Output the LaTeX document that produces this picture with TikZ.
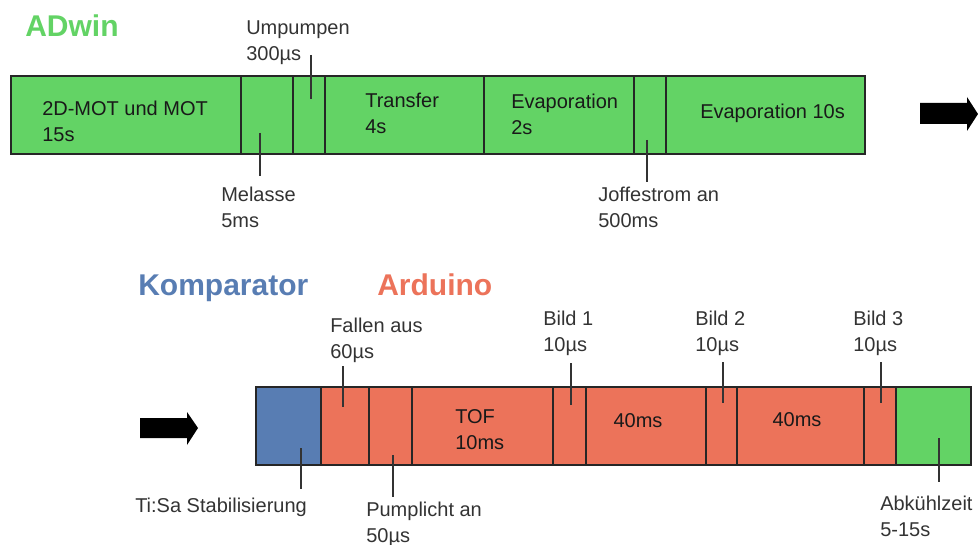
\documentclass[tikz,border=0pt]{standalone}
\usepackage{fontspec}
\setmainfont{Liberation Sans}
\usetikzlibrary{fit}

\definecolor{adgreen}{RGB}{99,211,101}
\definecolor{arorange}{RGB}{236,115,90}
\definecolor{kpblue}{RGB}{88,125,179}
\definecolor{inkgray}{RGB}{51,51,51}

\tikzset{
  seg/.style={draw=black!85, line width=1pt, inner sep=0pt},
  txt/.style={anchor=west, inner sep=0pt, align=left, text=black!90,
    font=\fontsize{15}{19.5}\selectfont},
  lbl/.style={txt, text=inkgray},
  head/.style={anchor=base west, inner sep=0pt, font=\fontsize{22.5}{27}\selectfont\bfseries},
  tick/.style={draw=inkgray, line width=1.1pt},
}

\begin{document}
\begin{tikzpicture}[x=0.75pt, y=-0.75pt]
  \useasboundingbox (0,0) rectangle (978,545);

  % ADwin sequence
  \node[seg, fill=adgreen, fit={(11,76) (241,154)}] (mot) {};
  \node[seg, fill=adgreen, fit={(241,76) (293,154)}] (mel) {};
  \node[seg, fill=adgreen, fit={(293,76) (325,154)}] (ump) {};
  \node[seg, fill=adgreen, fit={(325,76) (484,154)}] (trans) {};
  \node[seg, fill=adgreen, fit={(484,76) (634,154)}] (evap) {};
  \node[seg, fill=adgreen, fit={(634,76) (666,154)}] (joff) {};
  \node[seg, fill=adgreen, fit={(666,76) (865,154)}] (evapb) {};

  \node[head, text=adgreen] (adwin) at (25,37) {ADwin};
  \node[txt] (tmot) at (42,121) {2D-MOT und MOT\\15s};
  \node[txt] (ttrans) at (365,113) {Transfer\\4s};
  \node[txt] (tevap) at (511,114) {Evaporation\\2s};
  \node[txt] (tevapb) at (700,113) {Evaporation 10s};
  \node[lbl] (lump) at (246,43) {Umpumpen\\300µs};
  \node[lbl] (lmel) at (221,207) {Melasse\\5ms};
  \node[lbl] (ljoff) at (598,207) {Joffestrom an\\500ms};

  \coordinate (umpA) at (311,55);  \coordinate (umpB) at (311,99);
  \coordinate (melA) at (260,133); \coordinate (melB) at (260,176);
  \coordinate (joffA) at (647,140); \coordinate (joffB) at (647,182);
  \draw[tick] (umpA) -- (umpB);
  \draw[tick] (melA) -- (melB);
  \draw[tick] (joffA) -- (joffB);

  \fill[black] (920,103) -- (967,103) -- (967,97) -- (978,114) -- (967,131)
    -- (967,124) -- (920,124) -- cycle;

  % Komparator and Arduino sequence
  \fill[black] (140,418) -- (187,418) -- (187,412) -- (198,428) -- (187,445)
    -- (187,438) -- (140,438) -- cycle;

  \node[seg, fill=kpblue, fit={(256,387) (321,465)}] (ksa) {};
  \node[seg, fill=arorange, fit={(321,387) (369,465)}] (fall) {};
  \node[seg, fill=arorange, fit={(369,387) (412,465)}] (pump) {};
  \node[seg, fill=arorange, fit={(412,387) (553,465)}] (tof) {};
  \node[seg, fill=arorange, fit={(553,387) (586,465)}] (b1) {};
  \node[seg, fill=arorange, fit={(586,387) (706,465)}] (w1) {};
  \node[seg, fill=arorange, fit={(706,387) (737,465)}] (b2) {};
  \node[seg, fill=arorange, fit={(737,387) (864,465)}] (w2) {};
  \node[seg, fill=arorange, fit={(864,387) (896,465)}] (b3) {};
  \node[seg, fill=adgreen, fit={(896,387) (971,465)}] (cool) {};

  \node[head, text=kpblue] (komp) at (138,296) {Komparator};
  \node[head, text=arorange] (ardu) at (377,296) {Arduino};
  \node[txt] (ttof) at (455,430) {TOF\\10ms};
  \node[txt, anchor=center] (tw1) at (638,421) {40ms};
  \node[txt, anchor=center] (tw2) at (797,420) {40ms};
  \node[lbl] (lfall) at (330,340) {Fallen aus\\60µs};
  \node[lbl] (lb1) at (543,333) {Bild 1\\10µs};
  \node[lbl] (lb2) at (695,333) {Bild 2\\10µs};
  \node[lbl] (lb3) at (853,333) {Bild 3\\10µs};
  \node[lbl] (lksa) at (135,507) {Ti:Sa Stabilisierung};
  \node[lbl] (lpump) at (366,524) {Pumplicht an\\50µs};
  \node[lbl] (lcool) at (880,516) {Abkühlzeit\\5-15s};

  \coordinate (fallA) at (343,366); \coordinate (fallB) at (343,407);
  \coordinate (pumpA) at (393,455); \coordinate (pumpB) at (393,497);
  \coordinate (ksaA) at (301,448);  \coordinate (ksaB) at (301,489);
  \coordinate (b1A) at (571,363);   \coordinate (b1B) at (571,405);
  \coordinate (b2A) at (723,362);   \coordinate (b2B) at (723,403);
  \coordinate (b3A) at (881,362);   \coordinate (b3B) at (881,403);
  \coordinate (coolA) at (939,438); \coordinate (coolB) at (939,482);
  \draw[tick] (fallA) -- (fallB);
  \draw[tick] (pumpA) -- (pumpB);
  \draw[tick] (ksaA) -- (ksaB);
  \draw[tick] (b1A) -- (b1B);
  \draw[tick] (b2A) -- (b2B);
  \draw[tick] (b3A) -- (b3B);
  \draw[tick] (coolA) -- (coolB);
\end{tikzpicture}
\end{document}
